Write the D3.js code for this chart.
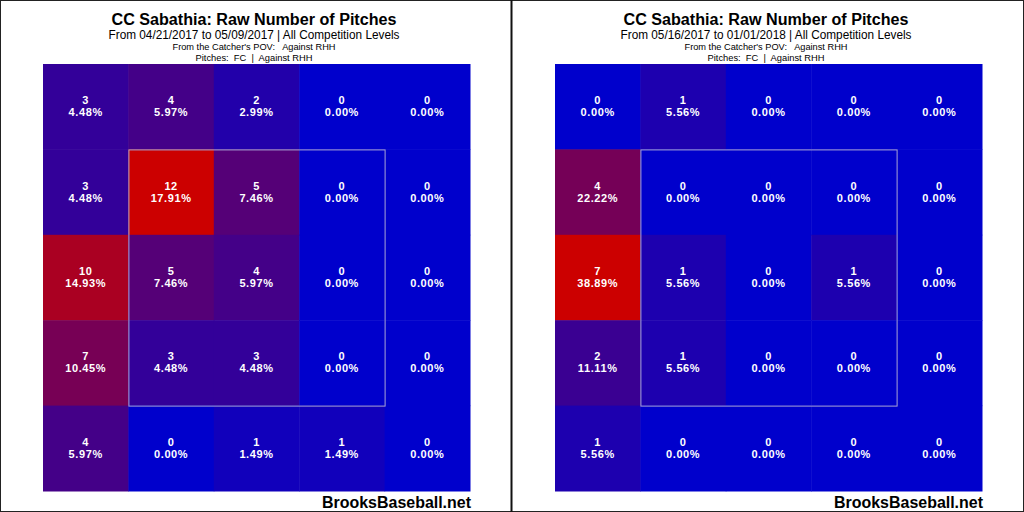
<!DOCTYPE html>
<html><head><meta charset="utf-8">
<script src="https://cdn.jsdelivr.net/npm/d3@7"></script>
<style>html,body{margin:0;padding:0;background:#fff;}svg{display:block;}</style>
</head><body>
<svg id="c" width="1024" height="512"></svg>
<script>
// ---- data ----
const titleText = "CC Sabathia: Raw Number of Pitches";
const subtitles = ["From 04/21/2017 to 05/09/2017 | All Competition Levels",
                   "From 05/16/2017 to 01/01/2018 | All Competition Levels"];
const povText = "From the Catcher's POV:   Against RHH";
const pitchText = "Pitches:  FC  |  Against RHH";
const footerText = "BrooksBaseball.net";
const cols = [0,1,2,3,4];
const rows = [0,1,2,3,4];
const leftCounts = [
  [3,4,2,0,0],
  [3,12,5,0,0],
  [10,5,4,0,0],
  [7,3,3,0,0],
  [4,0,1,1,0]];
const leftPct = [
  ["4.48%","5.97%","2.99%","0.00%","0.00%"],
  ["4.48%","17.91%","7.46%","0.00%","0.00%"],
  ["14.93%","7.46%","5.97%","0.00%","0.00%"],
  ["10.45%","4.48%","4.48%","0.00%","0.00%"],
  ["5.97%","0.00%","1.49%","1.49%","0.00%"]];
const rightCounts = [
  [0,1,0,0,0],
  [4,0,0,0,0],
  [7,1,0,1,0],
  [2,1,0,0,0],
  [1,0,0,0,0]];
const rightPct = [
  ["0.00%","5.56%","0.00%","0.00%","0.00%"],
  ["22.22%","0.00%","0.00%","0.00%","0.00%"],
  ["38.89%","5.56%","0.00%","5.56%","0.00%"],
  ["11.11%","5.56%","0.00%","0.00%","0.00%"],
  ["5.56%","0.00%","0.00%","0.00%","0.00%"]];
const panels = [
  {sub: subtitles[0], counts: leftCounts, pct: leftPct},
  {sub: subtitles[1], counts: rightCounts, pct: rightPct}];

// ---- drawing ----
const svg = d3.select("#c");
const font = "'Liberation Sans', Arial, sans-serif";
svg.append("rect").attr("x",0).attr("y",0).attr("width",1024).attr("height",512).attr("fill","#fff");

function txt(g, x, y, s, size, bold, len, anchor) {
  const t = g.append("text").attr("x",x).attr("y",y).attr("text-anchor",anchor || "middle")
    .attr("font-family",font).attr("font-size",size).attr("fill","#000")
    .style("white-space","pre").text(s);
  if (bold) t.attr("font-weight","bold");
  if (len) t.attr("textLength",len).attr("lengthAdjust","spacingAndGlyphs");
  return t;
}

panels.forEach((p, i) => {
  const ox = i * 512;
  const g = svg.append("g").attr("transform", `translate(${ox},0)`);
  const x = d3.scaleBand().domain(cols).range([43, 470]);
  const y = d3.scaleBand().domain(rows).range([64, 491]);
  const maxV = d3.max(p.counts.flat());
  const color = d3.scaleLinear().domain([0, maxV]).range(["#0000cc", "#cc0000"]).interpolate(d3.interpolateRgb);
  const cells = [];
  rows.forEach(r => cols.forEach(c => cells.push({r, c, v: p.counts[r][c], t: p.pct[r][c]})));
  g.selectAll("rect.cell").data(cells).enter().append("rect")
    .attr("x", d => x(d.c)).attr("y", d => y(d.r))
    .attr("width", x.bandwidth()+0.5).attr("height", y.bandwidth()+0.5)
    .attr("fill", d => color(d.v));
  // strike zone
  g.append("rect")
    .attr("x", x(1)+0.5).attr("y", y(1)+0.5)
    .attr("width", x(3)+x.bandwidth()-x(1)).attr("height", y(3)+y.bandwidth()-y(1))
    .attr("fill","none").attr("stroke","#a9a3d6").attr("stroke-width",1);
  const lab = g.selectAll("g.lab").data(cells).enter().append("g")
    .attr("transform", d => `translate(${x(d.c)+x.bandwidth()/2},${y(d.r)+y.bandwidth()/2})`);
  lab.append("text").attr("y",-2.5).attr("text-anchor","middle")
    .attr("font-family",font).attr("font-weight","bold").attr("font-size",11)
    .attr("letter-spacing",0.6).attr("fill","#fff").text(d => d.v);
  lab.append("text").attr("y",9.5).attr("text-anchor","middle")
    .attr("font-family",font).attr("font-weight","bold").attr("font-size",11)
    .attr("letter-spacing",0.6).attr("fill","#fff").text(d => d.t);
  // titles
  const cx = 254;
  txt(g, cx, 24.5, titleText, 16, true, 285);
  txt(g, cx, 38.8, p.sub, 12, false, 291);
  txt(g, cx, 50.2, povText, 9.5, false, 163);
  txt(g, cx, 61, pitchText, 9.5, false, 117);
  txt(g, 471, 508, footerText, 16.5, true, 149, "end");
});
// borders
svg.append("rect").attr("x",0.5).attr("y",0.5).attr("width",1023).attr("height",511)
  .attr("fill","none").attr("stroke","#222").attr("stroke-width",1);
svg.append("line").attr("x1",511.5).attr("x2",511.5).attr("y1",0).attr("y2",512)
  .attr("stroke","#111").attr("stroke-width",2);
</script>
</body></html>
